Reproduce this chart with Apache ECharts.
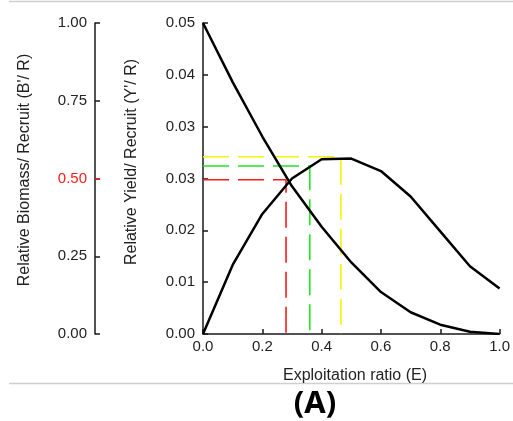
<!DOCTYPE html>
<html>
<head>
<meta charset="utf-8">
<script src="https://cdn.jsdelivr.net/npm/echarts@6/dist/echarts.min.js"></script>
<style>
html,body{margin:0;padding:0;background:#fff;}
#chart{width:513px;height:421px;}
</style>
</head>
<body>
<div id="chart"></div>
<script>
// Exploitation ratio (E)
var exploitation = [0, 0.1, 0.2, 0.3, 0.4, 0.5, 0.6, 0.7, 0.8, 0.9, 1.0];
// Relative yield per recruit (Y'/R)
var yieldPerRecruit = [0, 0.0111, 0.0193, 0.0250, 0.0281, 0.0282, 0.0262, 0.0221, 0.0165, 0.0109, 0.0073];
// Relative biomass per recruit (B'/R)
var biomassPerRecruit = [1.0, 0.81, 0.635, 0.475, 0.345, 0.23, 0.135, 0.07, 0.03, 0.007, 0.0];

// Reference points: E50 (red), E0.1 (green), Emax (yellow)
var refNames = ['E50', 'E0.1', 'Emax'];
var refE = [0.28, 0.36, 0.465];
var refYield = [0.0248, 0.0270, 0.0285];
var refColors = ['#ff1a1a', '#1ee61e', '#f5f500'];

var xTickLabels = ['0.0', '0.2', '0.4', '0.6', '0.8', '1.0'];
var yieldTickLabels = ['0.00', '0.01', '0.02', '0.03', '0.03', '0.04', '0.05'];
var biomassTickLabels = ['0.00', '0.25', '0.50', '0.75', '1.00'];
var biomassHighlight = [0.5];

var FONT = 'Liberation Sans';
var chart = echarts.init(document.getElementById('chart'), null, {renderer: 'canvas'});

var axisLineStyle = {color: '#1a1a1a', width: 1.5};

var series = [
  {
    name: 'Y/R', type: 'line', yAxisIndex: 0, symbol: 'none',
    lineStyle: {color: '#000', width: 2.5},
    data: exploitation.map(function (e, i) { return [e, yieldPerRecruit[i]]; }),
    z: 5
  },
  {
    name: 'B/R', type: 'line', yAxisIndex: 1, symbol: 'none',
    lineStyle: {color: '#000', width: 2.5},
    data: exploitation.map(function (e, i) { return [e, biomassPerRecruit[i]]; }),
    z: 5
  }
];
refE.forEach(function (e, i) {
  series.push({
    name: refNames[i], type: 'line', yAxisIndex: 0, symbol: 'none',
    lineStyle: {color: refColors[i], width: 1.6, type: [26, 9]},
    data: [[0, refYield[i]], [e, refYield[i]], [e, 0]],
    z: 3
  });
});

chart.setOption({
  animation: false,
  backgroundColor: '#fff',
  grid: {left: 203, right: 12, top: 23, height: 311},
  xAxis: {
    type: 'value', min: 0, max: 1, interval: 0.2,
    axisLine: {lineStyle: axisLineStyle},
    axisTick: {inside: true, length: 5, lineStyle: {color: '#1a1a1a', width: 1.5}},
    axisLabel: {
      fontFamily: FONT, fontSize: 15, color: '#222', margin: 5,
      formatter: function (v, i) { return xTickLabels[i]; }
    },
    splitLine: {show: false}
  },
  yAxis: [
    {
      type: 'value', position: 'left', min: 0, max: 0.05, interval: 0.05 / 6,
      axisLine: {show: true, lineStyle: axisLineStyle},
      axisTick: {show: true, inside: true, length: 5, lineStyle: {color: '#1a1a1a', width: 1.5}},
      axisLabel: {
        fontFamily: FONT, fontSize: 15, color: '#222', margin: 8,
        formatter: function (v, i) { return yieldTickLabels[i]; }
      },
      splitLine: {show: false}
    },
    {
      type: 'value', position: 'left', offset: 108, min: 0, max: 1, interval: 0.25,
      axisLine: {show: true, lineStyle: axisLineStyle},
      axisTick: {show: true, inside: true, length: 5, lineStyle: {color: '#1a1a1a', width: 1.5}},
      axisLabel: {
        fontFamily: FONT, fontSize: 15, color: '#222', margin: 8,
        formatter: function (v, i) {
          var t = biomassTickLabels[i];
          return t === '0.50' ? '{r|' + t + '}' : t;
        },
        rich: {r: {color: '#ff1a1a', fontFamily: FONT, fontSize: 15}}
      },
      splitLine: {show: false}
    },
    {
      type: 'value', position: 'left', offset: 108, min: 0, max: 1,
      axisLine: {show: false},
      axisTick: {show: true, inside: true, length: 5, customValues: biomassHighlight,
        lineStyle: {color: '#ff1a1a', width: 1.5}},
      axisLabel: {show: false},
      splitLine: {show: false}
    }
  ],
  graphic: [
    {type: 'line', shape: {x1: 9, y1: 1.5, x2: 513, y2: 1.5}, style: {stroke: '#cfcfcf', lineWidth: 1.5}},
    {type: 'line', shape: {x1: 9, y1: 383.5, x2: 513, y2: 383.5}, style: {stroke: '#cfcfcf', lineWidth: 1.5}},
    {type: 'text', x: 25, y: 170, rotation: Math.PI / 2,
      style: {text: "Relative Biomass/ Recruit (B'/ R)", font: '16px "Liberation Sans"', fill: '#222', textAlign: 'center', textVerticalAlign: 'middle'}},
    {type: 'text', x: 132, y: 162, rotation: Math.PI / 2,
      style: {text: "Relative Yield/ Recruit (Y'/ R)", font: '16px "Liberation Sans"', fill: '#222', textAlign: 'center', textVerticalAlign: 'middle'}},
    {type: 'text', x: 355, y: 376,
      style: {text: 'Exploitation ratio (E)', font: '16px "Liberation Sans"', fill: '#222', textAlign: 'center', textVerticalAlign: 'middle'}},
    {type: 'text', x: 315, y: 404,
      style: {text: '(A)', font: 'bold 31px "Noto Sans"', fill: '#000', textAlign: 'center', textVerticalAlign: 'middle'}}
  ],
  series: series
});
</script>
</body>
</html>
